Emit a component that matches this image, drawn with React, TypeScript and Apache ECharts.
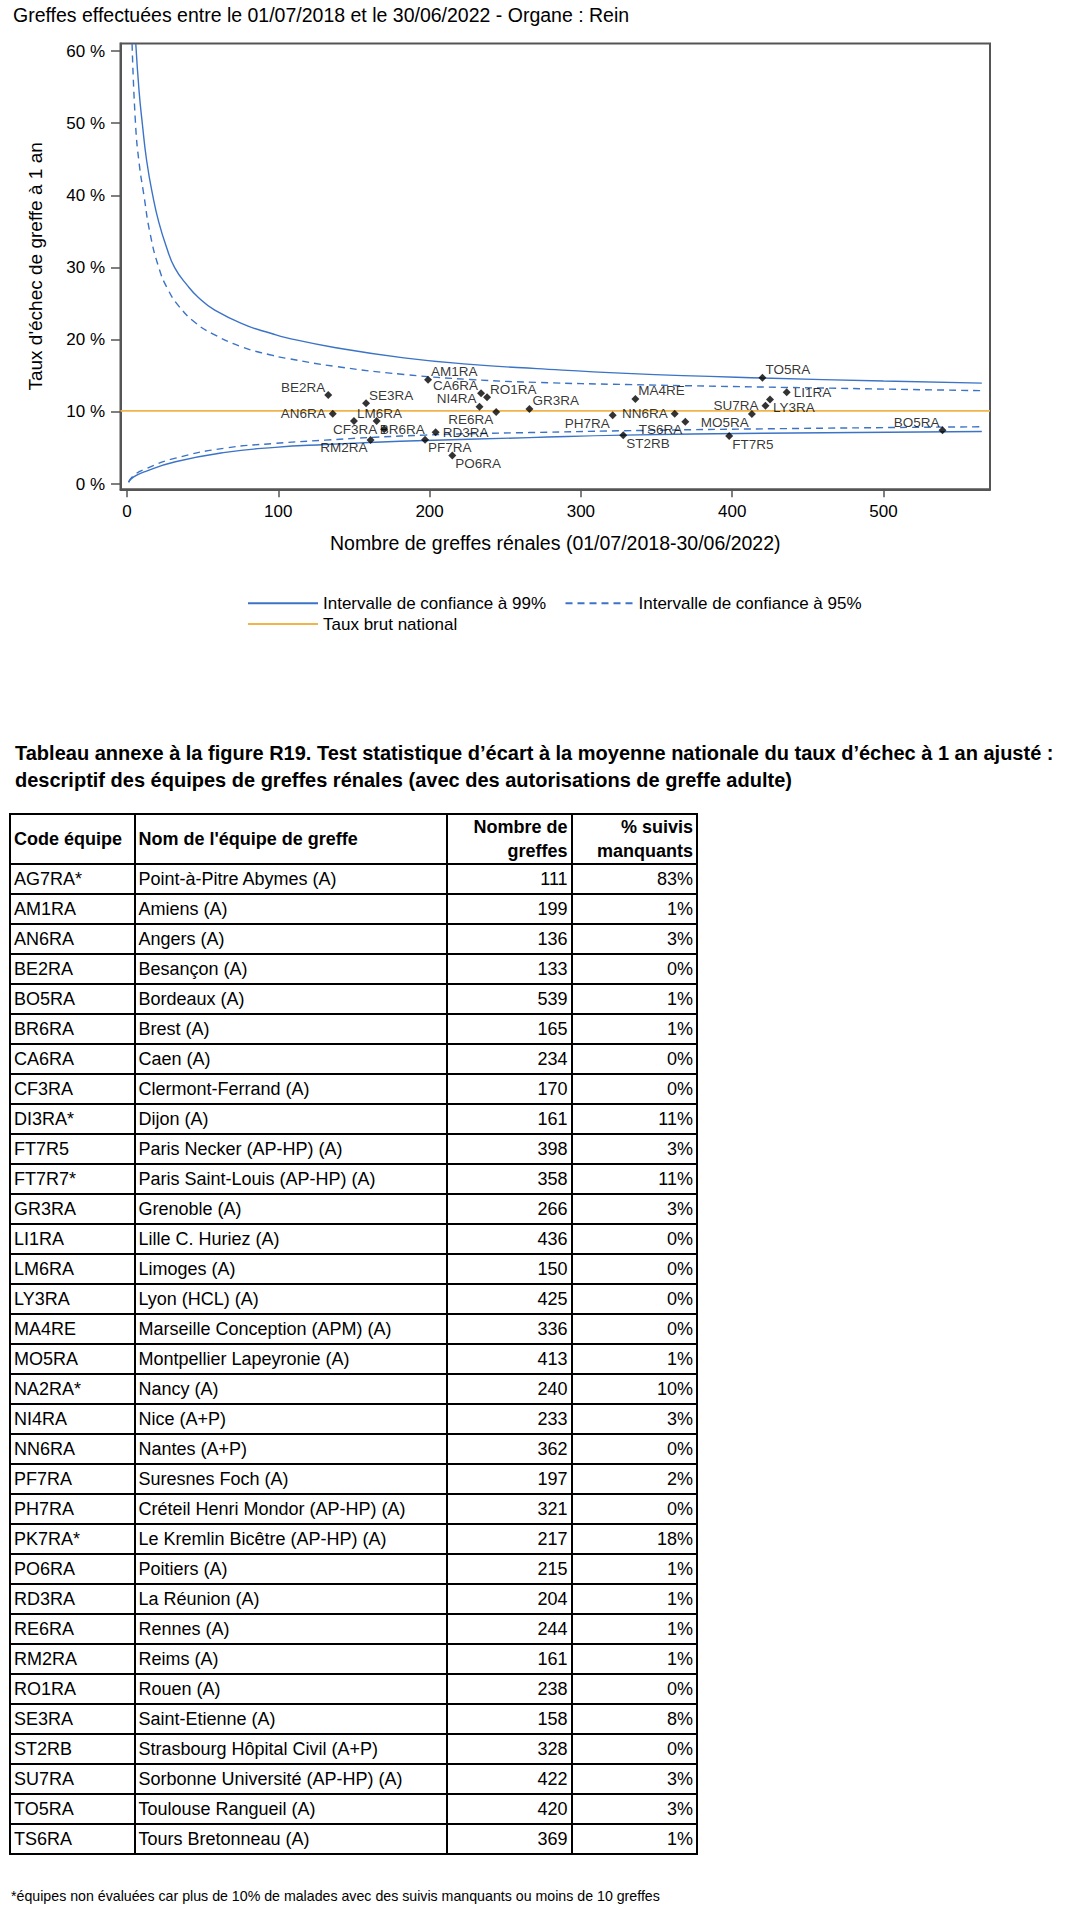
import React, { useEffect, useRef } from "react";
import * as echarts from "echarts";

// ---------- texts ----------
const chartTitle = "Greffes effectuées entre le 01/07/2018 et le 30/06/2022 - Organe : Rein";
const xAxisTitle = "Nombre de greffes rénales (01/07/2018-30/06/2022)";
const yAxisTitle = "Taux d'échec de greffe à 1 an";
const legend99 = "Intervalle de confiance à 99%";
const legend95 = "Intervalle de confiance à 95%";
const legendNat = "Taux brut national";
const tableTitle1 = "Tableau annexe à la figure R19. Test statistique d’écart à la moyenne nationale du taux d’échec à 1 an ajusté :";
const tableTitle2 = "descriptif des équipes de greffes rénales (avec des autorisations de greffe adulte)";
const tableHeaders = ["Code équipe", "Nom de l'équipe de greffe"];
const footnote = "*équipes non évaluées car plus de 10% de malades avec des suivis manquants ou moins de 10 greffes";

// ---------- axes ----------
const xTicks = [0, 100, 200, 300, 400, 500];
const yTicks = [0, 10, 20, 30, 40, 50, 60];
const xMin = -4.3;
const xMax = 570.4;
const yMin = -0.71;
const yMax = 61.04;
const nationalRate = 10.15;

// ---------- table ----------
const tableCodes = ["AG7RA*", "AM1RA", "AN6RA", "BE2RA", "BO5RA", "BR6RA", "CA6RA", "CF3RA", "DI3RA*", "FT7R5", "FT7R7*", "GR3RA", "LI1RA", "LM6RA", "LY3RA", "MA4RE", "MO5RA", "NA2RA*", "NI4RA", "NN6RA", "PF7RA", "PH7RA", "PK7RA*", "PO6RA", "RD3RA", "RE6RA", "RM2RA", "RO1RA", "SE3RA", "ST2RB", "SU7RA", "TO5RA", "TS6RA"];
const tableNames = ["Point-à-Pitre Abymes (A)", "Amiens (A)", "Angers (A)", "Besançon (A)", "Bordeaux (A)", "Brest (A)", "Caen (A)", "Clermont-Ferrand (A)", "Dijon (A)", "Paris Necker (AP-HP) (A)", "Paris Saint-Louis (AP-HP) (A)", "Grenoble (A)", "Lille C. Huriez (A)", "Limoges (A)", "Lyon (HCL) (A)", "Marseille Conception (APM) (A)", "Montpellier Lapeyronie (A)", "Nancy (A)", "Nice (A+P)", "Nantes (A+P)", "Suresnes Foch (A)", "Créteil Henri Mondor (AP-HP) (A)", "Le Kremlin Bicêtre (AP-HP) (A)", "Poitiers (A)", "La Réunion (A)", "Rennes (A)", "Reims (A)", "Rouen (A)", "Saint-Etienne (A)", "Strasbourg Hôpital Civil (A+P)", "Sorbonne Université (AP-HP) (A)", "Toulouse Rangueil (A)", "Tours Bretonneau (A)"];
const tableGrafts = [111, 199, 136, 133, 539, 165, 234, 170, 161, 398, 358, 266, 436, 150, 425, 336, 413, 240, 233, 362, 197, 321, 217, 215, 204, 244, 161, 238, 158, 328, 422, 420, 369];
const tableMissing = ["83%", "1%", "3%", "0%", "1%", "1%", "0%", "0%", "11%", "3%", "11%", "3%", "0%", "0%", "0%", "0%", "1%", "10%", "3%", "0%", "2%", "0%", "18%", "1%", "1%", "1%", "1%", "0%", "8%", "0%", "3%", "3%", "1%"];

// ---------- plotted teams (rate) ----------
const plotCodes = ["BE2RA", "AN6RA", "SE3RA", "LM6RA", "BR6RA", "CF3RA", "RM2RA", "AM1RA", "CA6RA", "RO1RA", "NI4RA", "RE6RA", "RD3RA", "PF7RA", "PO6RA", "GR3RA", "PH7RA", "MA4RE", "ST2RB", "NN6RA", "TS6RA", "FT7R5", "MO5RA", "TO5RA", "SU7RA", "LY3RA", "LI1RA", "BO5RA"];
const plotRates = [12.35, 9.75, 11.2, 8.75, 8.75, 7.62, 6.12, 14.45, 12.6, 12.05, 10.73, 10.0, 7.19, 6.15, 3.98, 10.42, 9.56, 11.8, 6.78, 9.77, 8.66, 6.66, 9.72, 14.75, 10.88, 11.73, 12.75, 7.48];
const plotLabelPos = ["tl", "l", "tr", "tr", "br", "l", "bl", "tr", "tl", "tr", "tl", "bl", "r", "br", "br", "tr", "bl", "tr", "br", "l", "bl", "br", "bl", "tr", "l", "br", "r", "tl"];

// ---------- confidence limits ----------
const upper99N = [5.8, 8, 10.1, 13, 17, 21, 26, 31.5, 40, 47, 58, 80, 95, 105, 138, 183, 227, 271, 330, 420, 500, 565];
const upper99Y = [61, 54.4, 50, 44.8, 40, 36.3, 32.9, 30, 27.5, 25.9, 24.1, 21.9, 20.9, 20.3, 18.9, 17.5, 16.6, 16.0, 15.35, 14.7, 14.3, 14.0];
const lower99N = [1, 4.4, 12, 32, 65, 98, 131, 164, 197, 266, 328, 420, 565];
const lower99Y = [0.25, 1.0, 1.75, 3.1, 4.4, 5.1, 5.5, 5.8, 6.05, 6.45, 6.8, 7.05, 7.3];
const upper95N = [3.35, 5.6, 8, 11.2, 15, 21, 27, 34.5, 45, 56, 76, 95, 105, 138, 183, 227, 271, 330, 436, 565];
const upper95Y = [61, 50, 44.5, 40, 35, 30, 27.0, 24.6, 22.4, 20.9, 19.0, 17.9, 17.45, 16.3, 15.2, 14.5, 14.1, 13.8, 13.4, 12.95];
const lower95N = [1, 4.4, 12, 32, 65, 98, 131, 164, 197, 217, 266, 328, 436, 565];
const lower95Y = [0.3, 1.2, 2.1, 3.6, 5.0, 5.65, 6.1, 6.5, 6.8, 6.95, 7.15, 7.4, 7.7, 7.95];

const FONT = "'Liberation Sans', Arial, Helvetica, sans-serif";
const BLUE = "#3b73c6";
const ORANGE = "#f1b34b";
const AXIS = "#555555";

const labelFor = (p: string) => {
  const m: Record<string, { align: string; offset: number[] }> = {
    r: { align: "left", offset: [7, 0] },
    l: { align: "right", offset: [-7, 0] },
    tr: { align: "left", offset: [3, -8] },
    tl: { align: "right", offset: [-3, -8] },
    br: { align: "left", offset: [3, 8] },
    bl: { align: "right", offset: [-3, 8] },
  };
  const c = m[p];
  return {
    show: true,
    position: "inside",
    align: c.align,
    verticalAlign: "middle",
    offset: c.offset,
    formatter: "{b}",
    color: "#000",
    fontSize: 13.5,
    fontFamily: FONT,
    textBorderWidth: 0,
  };
};

const zip = (a: number[], b: number[]) => a.map((v, i) => [v, b[i]]);

function Chart() {
  const ref = useRef<HTMLDivElement>(null);
  useEffect(() => {
    if (!ref.current) return;
    const chart = echarts.init(ref.current, undefined, { renderer: "svg" });
    const scatterData = plotCodes.map((code, i) => ({
      name: code,
      value: [tableGrafts[tableCodes.indexOf(code)], plotRates[i]],
      label: labelFor(plotLabelPos[i]),
    }));
    const curve = (name: string, data: number[][], dashed: boolean) => ({
      name,
      type: "line",
      data,
      symbol: "none",
      showSymbol: false,
      smooth: 0.5,
      z: 2,
      lineStyle: { color: BLUE, width: 1.4, type: dashed ? [7, 5] : "solid" },
      itemStyle: { color: BLUE },
      emphasis: { disabled: true },
    });
    const legendBase = {
      orient: "horizontal",
      itemWidth: 70,
      itemHeight: 20,
      padding: 0,
      selectedMode: false,
      itemStyle: { opacity: 0, borderWidth: 0 },
      textStyle: { fontSize: 17, fontFamily: FONT, color: "#000", lineHeight: 20 },
    };
    chart.setOption({
      animation: false,
      textStyle: { fontFamily: FONT },
      title: {
        text: chartTitle,
        left: 13,
        top: 4,
        padding: 0,
        textStyle: { fontSize: 19.5, fontWeight: "normal", fontFamily: FONT, color: "#000", lineHeight: 22 },
      },
      grid: {
        left: 120.5,
        top: 43.5,
        width: 869.5,
        height: 445.8,
        show: true,
        borderColor: AXIS,
        borderWidth: 2,
        backgroundColor: "transparent",
      },
      xAxis: {
        type: "value",
        min: xMin,
        max: xMax,
        name: xAxisTitle,
        nameLocation: "middle",
        nameGap: 44,
        nameTextStyle: { fontSize: 19.5, fontFamily: FONT, color: "#000" },
        axisLine: { show: true, onZero: false, lineStyle: { color: AXIS, width: 2 } },
        axisTick: { show: true, length: 8, customValues: xTicks, lineStyle: { color: AXIS, width: 1.5 } },
        axisLabel: { customValues: xTicks, margin: 14, fontSize: 17, color: "#000", fontFamily: FONT },
        splitLine: { show: false },
      },
      yAxis: {
        type: "value",
        min: yMin,
        max: yMax,
        name: yAxisTitle,
        nameLocation: "middle",
        nameGap: 76,
        nameTextStyle: { fontSize: 19, fontFamily: FONT, color: "#000" },
        axisLine: { show: true, onZero: false, lineStyle: { color: AXIS, width: 2 } },
        axisTick: { show: true, length: 9.5, customValues: yTicks, lineStyle: { color: AXIS, width: 1.5 } },
        axisLabel: {
          customValues: yTicks,
          margin: 15.5,
          fontSize: 17,
          color: "#000",
          fontFamily: FONT,
          formatter: (v: number) => `${v} %`,
        },
        splitLine: { show: false },
      },
      legend: [
        { ...legendBase, left: 247, top: 593.3, data: [legend99] },
        { ...legendBase, left: 564.5, top: 593.3, itemWidth: 68, data: [legend95] },
        { ...legendBase, left: 247, top: 614, data: [legendNat] },
      ],
      series: [
        curve(legend99, zip(upper99N, upper99Y), false),
        curve(legend99, zip(lower99N, lower99Y), false),
        curve(legend95, zip(upper95N, upper95Y), true),
        curve(legend95, zip(lower95N, lower95Y), true),
        {
          name: legendNat,
          type: "line",
          data: [
            [xMin, nationalRate],
            [xMax, nationalRate],
          ],
          symbol: "none",
          showSymbol: false,
          z: 1,
          lineStyle: { color: ORANGE, width: 1.8 },
          itemStyle: { color: ORANGE },
          emphasis: { disabled: true },
        },
        {
          name: "Équipes",
          type: "scatter",
          data: scatterData,
          symbol: "diamond",
          symbolSize: 8,
          z: 3,
          itemStyle: { color: "#000" },
          emphasis: { disabled: true },
        },
      ],
    });
    return () => chart.dispose();
  }, []);
  return (
    <div
      ref={ref}
      style={{ position: "absolute", left: 0, top: 0, width: 1070, height: 660 }}
    />
  );
}

const cellBase: React.CSSProperties = {
  border: "2px solid #000",
  padding: "0 3px",
  fontSize: 18,
  fontFamily: FONT,
  color: "#000",
  verticalAlign: "middle",
  whiteSpace: "nowrap",
  overflow: "hidden",
};

function Table() {
  return (
    <table
      style={{
        position: "absolute",
        left: 9,
        top: 813,
        borderCollapse: "collapse",
        tableLayout: "fixed",
        width: 689,
      }}
    >
      <colgroup>
        <col style={{ width: 124.5 }} />
        <col style={{ width: 312.2 }} />
        <col style={{ width: 124.9 }} />
        <col style={{ width: 125.4 }} />
      </colgroup>
      <thead>
        <tr style={{ height: 49 }}>
          <th style={{ ...cellBase, fontWeight: "bold", textAlign: "left", lineHeight: "24px" }}>{tableHeaders[0]}</th>
          <th style={{ ...cellBase, fontWeight: "bold", textAlign: "left", lineHeight: "24px" }}>{tableHeaders[1]}</th>
          <th style={{ ...cellBase, fontWeight: "bold", textAlign: "right", lineHeight: "24px", whiteSpace: "normal" }}>
            Nombre de<br />greffes
          </th>
          <th style={{ ...cellBase, fontWeight: "bold", textAlign: "right", lineHeight: "24px", whiteSpace: "normal" }}>
            % suivis<br />manquants
          </th>
        </tr>
      </thead>
      <tbody>
        {tableCodes.map((code, i) => (
          <tr key={code} style={{ height: 30 }}>
            <td style={{ ...cellBase, textAlign: "left" }}>{code}</td>
            <td style={{ ...cellBase, textAlign: "left" }}>{tableNames[i]}</td>
            <td style={{ ...cellBase, textAlign: "right" }}>{tableGrafts[i]}</td>
            <td style={{ ...cellBase, textAlign: "right" }}>{tableMissing[i]}</td>
          </tr>
        ))}
      </tbody>
    </table>
  );
}

export default function App() {
  return (
    <div
      style={{
        position: "absolute",
        left: 0,
        top: 0,
        width: 1070,
        height: 1917,
        overflow: "hidden",
        background: "#fff",
        fontFamily: FONT,
      }}
    >
      <Chart />
      <div
        style={{
          position: "absolute",
          left: 15,
          top: 740,
          fontSize: 20,
          fontWeight: "bold",
          lineHeight: "27px",
          color: "#000",
          whiteSpace: "nowrap",
        }}
      >
        <div>{tableTitle1}</div>
        <div>{tableTitle2}</div>
      </div>
      <Table />
      <div
        style={{
          position: "absolute",
          left: 11,
          top: 1888,
          fontSize: 14.2,
          lineHeight: "17px",
          color: "#000",
          whiteSpace: "nowrap",
        }}
      >
        {footnote}
      </div>
    </div>
  );
}
